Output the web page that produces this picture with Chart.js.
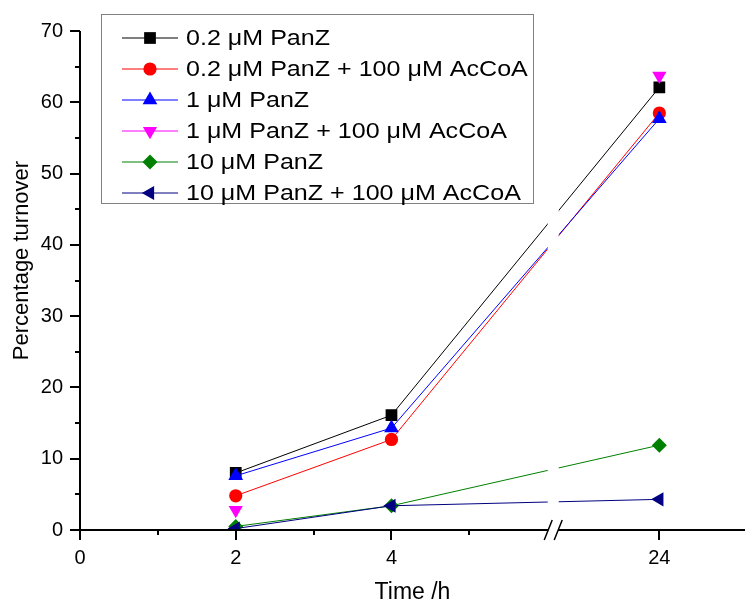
<!DOCTYPE html>
<html>
<head>
<meta charset="utf-8">
<script src="https://cdn.jsdelivr.net/npm/chart.js@4.4.0/dist/chart.umd.min.js"></script>
<style>
  body { margin: 0; background: #fff; }
</style>
</head>
<body>
<canvas id="turnoverChart" width="754" height="606"></canvas>
<script>
// sampling times (h) and axis ticks
const hours = [2, 4, 24];
const xTickHours = [0, 2, 4, 24];
const xMinorHours = [1, 3, 5];
const yMax = 70;

// percentage turnover per series
const seriesNames = [
    '0.2 \u03bcM PanZ',
    '0.2 \u03bcM PanZ + 100 \u03bcM AcCoA',
    '1 \u03bcM PanZ',
    '1 \u03bcM PanZ + 100 \u03bcM AcCoA',
    '10 \u03bcM PanZ',
    '10 \u03bcM PanZ + 100 \u03bcM AcCoA'
];
const panz02 = [8.0, 16.1, 62.1];
const panz02AcCoA = [4.8, 12.7, 58.5];
const panz1 = [7.6, 14.3, 57.7];
const panz1AcCoA = [2.8, null, 63.7];
const panz10 = [0.5, 3.4, 11.9];
const panz10AcCoA = [0.2, 3.4, 4.3];

// broken x axis: everything after the break is squeezed
const breakAt = 6;
const afterBreak = 0.08;
function axisPos(h) {
    return h <= breakAt ? h : breakAt + (h - breakAt) * afterBreak;
}

const FONT = '"Liberation Sans", Arial, sans-serif';

const styles = [
    { color: '#000000', pointStyle: 'rect', radius: 8.3, rotation: 0 },
    { color: '#ff0000', pointStyle: 'circle', radius: 6.6, rotation: 0 },
    { color: '#0000ff', pointStyle: 'triangle', radius: 8.5, rotation: 0 },
    { color: '#ff00ff', pointStyle: 'triangle', radius: 8.2, rotation: 180 },
    { color: '#008000', pointStyle: 'rectRot', radius: 7.5, rotation: 0 },
    { color: '#000080', pointStyle: 'triangle', radius: 8.2, rotation: -90 }
];
const allValues = [panz02, panz02AcCoA, panz1, panz1AcCoA, panz10, panz10AcCoA];

const datasets = allValues.map((vals, i) => ({
    label: seriesNames[i],
    data: vals.map((v, j) => ({ x: axisPos(hours[j]), y: v })),
    borderColor: styles[i].color,
    backgroundColor: styles[i].color,
    borderWidth: 1,
    pointStyle: styles[i].pointStyle,
    pointRadius: styles[i].radius,
    pointRotation: styles[i].rotation,
    pointBorderWidth: 0,
    pointBackgroundColor: styles[i].color,
    spanGaps: false,
    tension: 0,
    order: allValues.length - i
}));

// cut the lines where the axis is broken
const lineBreak = {
    id: 'lineBreak',
    beforeDatasetsDraw(chart) {
        const ctx = chart.ctx;
        const bx = chart.scales.x.getPixelForValue(breakAt) + 6;
        ctx.save();
        ctx.beginPath();
        ctx.rect(0, 0, bx - 5.5, chart.height);
        ctx.rect(bx + 5.5, 0, chart.width, chart.height);
        ctx.clip();
    },
    afterDatasetsDraw(chart) {
        chart.ctx.restore();
    }
};

// Origin-style axes: outward ticks, minor ticks, break marks
const originAxes = {
    id: 'originAxes',
    afterDraw(chart) {
        const { ctx, chartArea: a } = chart;
        const x = chart.scales.x, y = chart.scales.y;
        const bx = x.getPixelForValue(breakAt) + 6;
        ctx.save();
        ctx.strokeStyle = '#000';
        ctx.lineWidth = 2;
        ctx.beginPath();
        ctx.moveTo(a.left, a.top);
        ctx.lineTo(a.left, a.bottom + 1);
        ctx.moveTo(a.left - 1, a.bottom);
        ctx.lineTo(bx - 5, a.bottom);
        ctx.moveTo(bx + 5, a.bottom);
        ctx.lineTo(a.right, a.bottom);
        for (let v = 0; v <= yMax; v += 5) {
            const py = Math.round(y.getPixelForValue(v));
            ctx.moveTo(a.left, py);
            ctx.lineTo(a.left - (v % 10 === 0 ? 10 : 5), py);
        }
        xTickHours.forEach(h => {
            const px = Math.round(x.getPixelForValue(axisPos(h)));
            ctx.moveTo(px, a.bottom);
            ctx.lineTo(px, a.bottom + 10);
        });
        xMinorHours.forEach(h => {
            const px = Math.round(x.getPixelForValue(axisPos(h)));
            ctx.moveTo(px, a.bottom);
            ctx.lineTo(px, a.bottom + 5);
        });
        ctx.stroke();

        ctx.lineWidth = 1.5;
        ctx.beginPath();
        [-5, 5].forEach(d => {
            ctx.moveTo(bx + d - 4, a.bottom + 10);
            ctx.lineTo(bx + d + 4, a.bottom - 10);
        });
        ctx.stroke();

        // y axis title
        ctx.fillStyle = '#000';
        ctx.font = '22px ' + FONT;
        ctx.textAlign = 'center';
        ctx.textBaseline = 'middle';
        ctx.translate(22, (a.top + a.bottom) / 2 - 20);
        ctx.rotate(-Math.PI / 2);
        ctx.fillText('Percentage turnover', 0, 0);
        ctx.restore();
    }
};

// boxed legend in the upper left
const boxLegend = {
    id: 'boxLegend',
    afterDraw(chart) {
        const ctx = chart.ctx;
        ctx.save();
        ctx.strokeStyle = '#808080';
        ctx.lineWidth = 1;
        ctx.strokeRect(101.5, 14.5, 432, 189);
        chart.data.datasets.forEach((ds, i) => {
            const rowY = 38 + i * 31;
            ctx.strokeStyle = ds.borderColor;
            ctx.lineWidth = 1;
            ctx.beginPath();
            ctx.moveTo(122, rowY);
            ctx.lineTo(178, rowY);
            ctx.stroke();
            ctx.fillStyle = ds.pointBackgroundColor;
            Chart.helpers.drawPoint(ctx, {
                pointStyle: ds.pointStyle,
                radius: ds.pointRadius,
                rotation: ds.pointRotation,
                borderWidth: 0
            }, 150, rowY);
            ctx.save();
            ctx.fillStyle = '#000';
            ctx.font = '22px ' + FONT;
            ctx.textAlign = 'left';
            ctx.textBaseline = 'middle';
            ctx.translate(186, rowY + 1);
            ctx.scale(1.14, 1);
            ctx.fillText(ds.label, 0, 0);
            ctx.restore();
        });
        ctx.restore();
    }
};

const ctx = document.getElementById('turnoverChart').getContext('2d');
new Chart(ctx, {
    type: 'line',
    data: { datasets: datasets },
    options: {
        responsive: false,
        animation: false,
        layout: { padding: { top: 31, right: 9, left: 0, bottom: 0 } },
        plugins: {
            legend: { display: false },
            tooltip: { enabled: false }
        },
        scales: {
            x: {
                type: 'linear',
                min: 0,
                max: 8.54,
                grid: { display: false, drawTicks: false },
                border: { display: false },
                afterBuildTicks: scale => {
                    scale.ticks = xTickHours.map(h => ({ value: axisPos(h) }));
                },
                afterFit: scale => { scale.height = 76; },
                ticks: {
                    autoSkip: false,
                    maxRotation: 0,
                    padding: 16,
                    color: '#000',
                    font: { family: FONT, size: 20 },
                    callback: (val, i) => String(xTickHours[i])
                },
                title: {
                    display: true,
                    text: 'Time /h',
                    color: '#000',
                    font: { family: FONT, size: 23 },
                    padding: { top: 0, bottom: 0 }
                }
            },
            y: {
                min: 0,
                max: yMax,
                grid: { display: false, drawTicks: false },
                border: { display: false },
                afterFit: scale => { scale.width = 80; },
                ticks: {
                    stepSize: 10,
                    padding: 17,
                    color: '#000',
                    font: { family: FONT, size: 20 }
                }
            }
        }
    },
    plugins: [lineBreak, originAxes, boxLegend]
});
</script>
</body>
</html>
